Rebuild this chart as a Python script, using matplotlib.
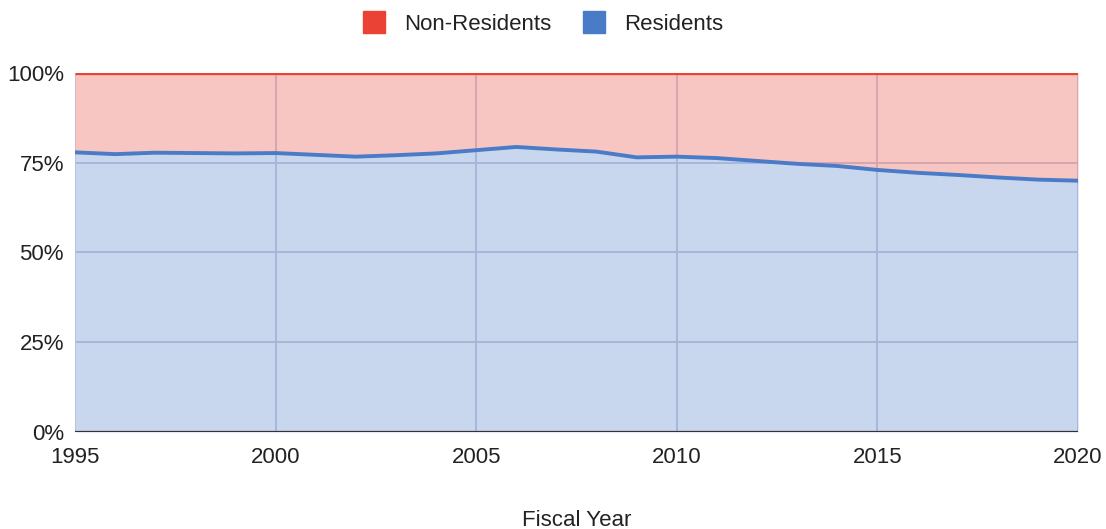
import matplotlib.pyplot as plt
from matplotlib.lines import Line2D

# Share of enrollment by residency, fiscal years 1995-2020 (percent)
years = list(range(1995, 2021))
residents = [77.9, 77.4, 77.8, 77.7, 77.6, 77.7, 77.2, 76.7, 77.1, 77.6,
             78.5, 79.4, 78.7, 78.1, 76.5, 76.7, 76.3, 75.5, 74.7, 74.1,
             73.0, 72.2, 71.6, 70.9, 70.3, 70.0]
non_residents = [100 - r for r in residents]

x_ticks = [1995, 2000, 2005, 2010, 2015, 2020]
y_ticks = [0, 25, 50, 75, 100]
y_labels = ["0%", "25%", "50%", "75%", "100%"]

red = "#ea4335"
blue = "#4a7bc6"

plt.rcParams["font.family"] = ["Liberation Sans", "DejaVu Sans"]

fig = plt.figure(figsize=(11.06, 5.29), dpi=100)
ax = fig.add_axes([0.0678, 0.1834, 0.9069, 0.6786])

# gridlines sit under the translucent fills, like the original
ax.set_axisbelow(True)
ax.grid(True, color="#cdd0e4", linewidth=1.4, zorder=0)

top = [r + n for r, n in zip(residents, non_residents)]
ax.fill_between(years, 0, residents, color=blue, alpha=0.3, linewidth=0, zorder=1)
ax.fill_between(years, residents, top, color=red, alpha=0.3, linewidth=0, zorder=1)
ax.plot(years, top, color=red, linewidth=2.4, zorder=3, solid_capstyle="butt")
ax.plot(years, residents, color=blue, linewidth=2.8, zorder=3, solid_capstyle="butt")
ax.axhline(0, color="#333333", linewidth=1.6, zorder=4)

ax.set_xlim(1995, 2020)
ax.set_ylim(0, 100)
ax.set_xticks(x_ticks)
ax.set_yticks(y_ticks)
ax.set_yticklabels(y_labels)
ax.tick_params(length=0, labelsize=16, colors="#222222")
ax.tick_params(axis="x", pad=11)
ax.tick_params(axis="y", pad=8)
for s in ax.spines.values():
    s.set_visible(False)

ax.set_xlabel("Fiscal Year", fontsize=16, color="#222222", labelpad=30)

handles = [Line2D([], [], marker="s", linestyle="none", markersize=16,
                  markerfacecolor=red, markeredgecolor=red),
           Line2D([], [], marker="s", linestyle="none", markersize=16,
                  markerfacecolor=blue, markeredgecolor=blue)]
fig.legend(handles, ["Non-Residents", "Residents"], loc="upper center",
           bbox_to_anchor=(0.486, 1.012), ncol=2, frameon=False, fontsize=16,
           handletextpad=0.35, columnspacing=0.9, labelcolor="#222222")

fig.savefig("out.png", dpi=100)
